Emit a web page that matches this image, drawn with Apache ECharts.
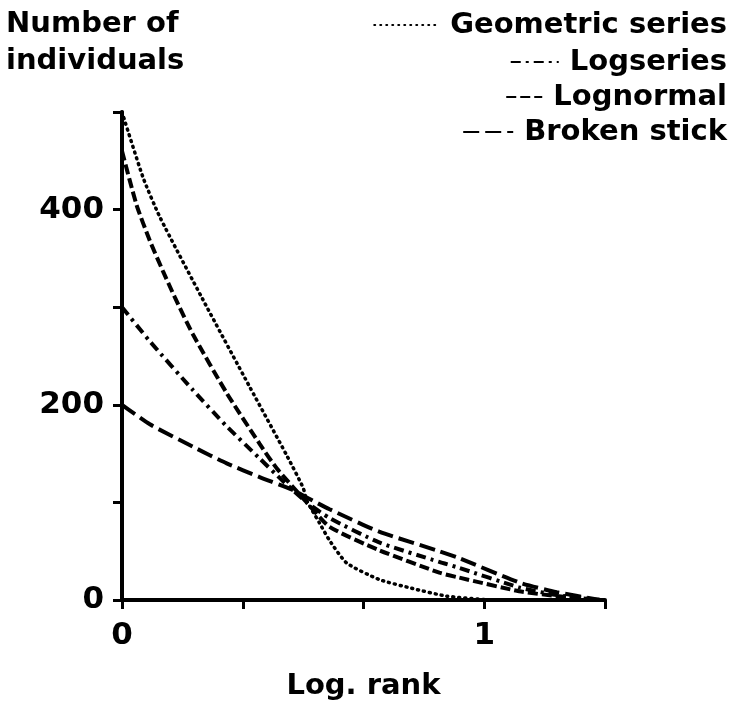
<!DOCTYPE html>
<html>
<head>
<meta charset="utf-8">
<script src="https://cdn.jsdelivr.net/npm/echarts@6/dist/echarts.min.js"></script>
<style>
  html, body { margin: 0; padding: 0; background: #fff; }
  #chart { width: 733px; height: 715px; }
</style>
</head>
<body>
<div id="chart"></div>
<script>
// values (x = log rank, y = number of individuals)
var geoX = [0, 0.058, 0.105, 0.223, 0.353, 0.455, 0.5, 0.51, 0.545, 0.573, 0.62, 0.71, 0.80, 0.895, 1.0];
var geoY = [500, 433, 392, 308, 218, 148, 115, 102, 79, 61, 38, 21, 12, 4, 0.5];

var logserX = [0, 0.077, 0.196, 0.289, 0.38, 0.444, 0.51, 0.573, 0.71, 0.876, 0.93, 1.096, 1.2, 1.32];
var logserY = [300, 265, 215, 178, 145, 122, 100, 84, 59, 39, 33, 13, 5, 0];

var lognX = [0, 0.04, 0.077, 0.113, 0.146, 0.196, 0.289, 0.38, 0.427, 0.51, 0.573, 0.71, 0.876, 0.93, 1.096, 1.2, 1.32];
var lognY = [460, 405, 368, 337, 310, 272, 212, 160, 135, 100, 75, 51, 28, 23, 9, 4, 0];

var stickX = [0, 0.077, 0.196, 0.289, 0.38, 0.47, 0.51, 0.573, 0.71, 0.876, 0.93, 1.096, 1.2, 1.32];
var stickY = [200, 180, 157, 140, 126, 113, 105, 93, 70, 50, 43, 18, 8, 0];

var yTickLabels = [0, 200, 400];
var xTickLabels = [0, 1];

function pairs(xs, ys) {
  return xs.map(function (x, i) { return [x, ys[i]] })
}

var font = 'DejaVu Sans'

function oneLegend(name, top, w) {
  return {
    data: [name],
    right: 6,
    top: top,
    padding: 0,
    itemWidth: w,
    itemHeight: 14,
    selectedMode: false,
    itemStyle: { opacity: 0 },
    textStyle: { fontFamily: font, fontWeight: 'bold', fontSize: 29, color: '#000', lineHeight: 32, padding: [0, 0, 0, 6] }
  }
}

function curve(name, xs, ys, style) {
  return {
    name: name, type: 'line', symbol: 'none', color: '#000',
    smooth: 0.2,
    data: pairs(xs, ys),
    lineStyle: style
  }
}

var chart = echarts.init(document.getElementById('chart'))
chart.setOption({
  backgroundColor: '#fff',
  animation: false,
  title: {
    text: 'Number of\nindividuals',
    left: 6,
    top: 6,
    padding: 0,
    textStyle: { fontFamily: font, fontWeight: 'bold', fontSize: 29, color: '#000', lineHeight: 37 }
  },
  legend: [
    oneLegend('Geometric series', 9, 65),
    oneLegend('Logseries', 46, 48),
    oneLegend('Lognormal', 81, 36),
    oneLegend('Broken stick', 116, 50)
  ],
  grid: { left: 122, right: 128, top: 112, bottom: 115 },
  xAxis: {
    type: 'value',
    min: 0,
    max: 4 / 3,
    interval: 1 / 3,
    name: 'Log. rank',
    nameLocation: 'middle',
    nameGap: 72,
    nameTextStyle: { fontFamily: font, fontWeight: 'bold', fontSize: 29, color: '#000' },
    splitLine: { show: false },
    axisLine: { lineStyle: { color: '#000', width: 4 } },
    axisTick: { length: 9, lineStyle: { color: '#000', width: 3 } },
    axisLabel: {
      margin: 20,
      fontFamily: font, fontWeight: 'bold', fontSize: 31, color: '#000',
      formatter: function (v) {
        var r = Math.round(v)
        return (Math.abs(v - r) < 1e-6 && xTickLabels.indexOf(r) >= 0) ? String(r) : ''
      }
    }
  },
  yAxis: {
    type: 'value',
    min: 0,
    max: 500,
    interval: 100,
    splitLine: { show: false },
    axisLine: { show: true, lineStyle: { color: '#000', width: 4 } },
    axisTick: { show: true, length: 9, lineStyle: { color: '#000', width: 3 } },
    axisLabel: {
      margin: 18,
      fontFamily: font, fontWeight: 'bold', fontSize: 31, color: '#000',
      formatter: function (v) { return yTickLabels.indexOf(v) >= 0 ? String(v) : '' }
    }
  },
  series: [
    curve('Geometric series', geoX, geoY, { color: '#000', width: 3.5, type: [1, 5], cap: 'round' }),
    curve('Logseries', logserX, logserY, { color: '#000', width: 4, type: [10, 5, 3, 5] }),
    curve('Lognormal', lognX, lognY, { color: '#000', width: 4, type: [10, 4] }),
    curve('Broken stick', stickX, stickY, { color: '#000', width: 4, type: [16, 6] })
  ]
})
</script>
</body>
</html>
